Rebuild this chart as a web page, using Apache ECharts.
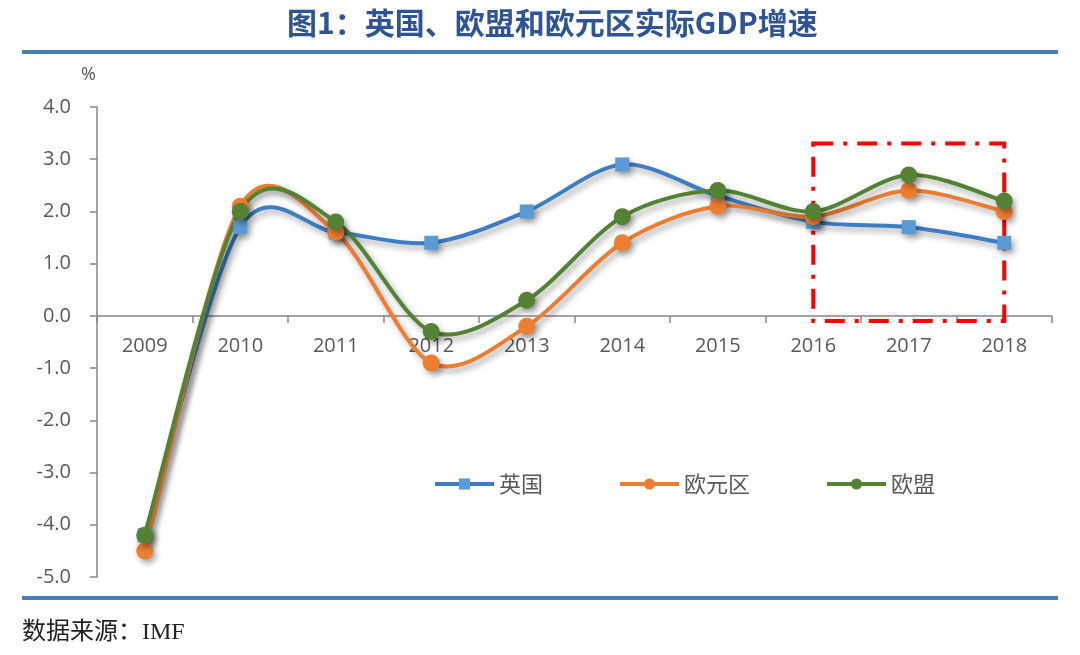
<!DOCTYPE html>
<html>
<head>
<meta charset="utf-8">
<script src="https://cdn.jsdelivr.net/npm/echarts@6/dist/echarts.min.js"></script>
<style>html,body{margin:0;padding:0;background:#fff;}#c{width:1080px;height:655px;}</style>
</head>
<body>
<div id="c"></div>
<script>
const years = ['2009','2010','2011','2012','2013','2014','2015','2016','2017','2018'];
const uk = [-4.2, 1.7, 1.6, 1.4, 2.0, 2.9, 2.3, 1.8, 1.7, 1.4];
const euroArea = [-4.5, 2.1, 1.6, -0.9, -0.2, 1.4, 2.1, 1.9, 2.4, 2.0];
const eu = [-4.2, 2.0, 1.8, -0.3, 0.3, 1.9, 2.4, 2.0, 2.7, 2.2];
const yTicks = {min: -5, max: 4, interval: 1};
const boxRange = {from: '2016', to: '2018', top: 3.3, bottom: -0.1};

const chart = echarts.init(document.getElementById('c'));
const shadow = {shadowColor: 'rgba(0,0,0,0.35)', shadowBlur: 6, shadowOffsetX: 3, shadowOffsetY: 4};
const labelFont = '"Open Sans", "Noto Sans CJK SC", sans-serif';

const grid = {left: 97, right: 28, top: 107, bottom: 78};
const gridH = 655 - grid.top - grid.bottom;
const zeroOffset = -gridH * (0 - yTicks.min) / (yTicks.max - yTicks.min);

// smooth curve (Excel-like cardinal spline) drawn through the axis coordinates of the data
function curveSeries(name, data, color) {
  return {
    type: 'custom', name: name + '_curve', silent: true, clip: false,
    data: data.map((v, i) => [i, v]), encode: {x: 0, y: 1},
    renderItem: (params, api) => {
      if (params.dataIndex !== 0) return null;
      const p = data.map((v, i) => api.coord([i, v]));
      const n = p.length;
      const k = 1 / 6.5;
      let d = 'M' + p[0][0] + ',' + p[0][1];
      for (let i = 0; i < n - 1; i++) {
        const a = p[Math.max(i - 1, 0)], b = p[i], c = p[i + 1], e = p[Math.min(i + 2, n - 1)];
        const c1x = b[0] + (c[0] - a[0]) * k, c1y = b[1] + (c[1] - a[1]) * k;
        const c2x = c[0] - (e[0] - b[0]) * k, c2y = c[1] - (e[1] - b[1]) * k;
        d += ' C' + c1x + ',' + c1y + ' ' + c2x + ',' + c2y + ' ' + c[0] + ',' + c[1];
      }
      return {
        type: 'path', shape: {pathData: d},
        style: Object.assign({fill: 'none', stroke: color, lineWidth: 4, lineJoin: 'round', lineCap: 'round'}, shadow)
      };
    }
  };
}

function markerSeries(name, data, lineColor, markColor, symbol, size) {
  return {
    name, type: 'line', data, symbol, symbolSize: size,
    lineStyle: {color: lineColor, width: 4, opacity: 0},
    itemStyle: Object.assign({color: markColor, borderWidth: 0}, shadow),
    emphasis: {disabled: true}
  };
}

const colors = {uk: ['#3D7DC3', '#5B9BD5'], ea: ['#ED7D31', '#ED7D31'], eu: ['#548235', '#548235']};
const m3 = markerSeries('欧盟', eu, colors.eu[0], colors.eu[1], 'circle', 17);
m3.markArea = {
  silent: true,
  itemStyle: {color: 'rgba(0,0,0,0)', borderColor: '#FF0000', borderWidth: 4, borderType: [20, 10, 4, 10]},
  data: [[{coord: [boxRange.from, boxRange.top]}, {coord: [boxRange.to, boxRange.bottom]}]]
};

chart.setOption({
  animation: false,
  title: {
    text: '图1：英国、欧盟和欧元区实际GDP增速',
    left: 282, top: 3,
    textStyle: {fontSize: 30, fontWeight: 'bold', color: '#2F5496', fontFamily: '"Noto Sans CJK SC", sans-serif'}
  },
  graphic: [
    {type: 'line', shape: {x1: 22, y1: 52, x2: 1058, y2: 52}, style: {stroke: '#4A7EBB', lineWidth: 4}},
    {type: 'line', shape: {x1: 22, y1: 598, x2: 1058, y2: 598}, style: {stroke: '#4A7EBB', lineWidth: 4}},
    {type: 'text', left: 22, top: 621, style: {text: '数据来源：IMF', fontSize: 24, fill: '#222', fontFamily: '"Liberation Serif", "Noto Sans CJK SC", serif'}},
    {type: 'text', left: 81, top: 66, style: {text: '%', fontSize: 18, fill: '#595959', fontFamily: labelFont}}
  ],
  legend: {
    left: 433, top: 473, padding: 0, itemWidth: 59, itemHeight: 14, itemGap: 75,
    lineStyle: {width: 4, opacity: 1},
    textStyle: {fontSize: 22, color: '#595959', fontFamily: '"Noto Sans CJK SC", sans-serif'},
    data: [
      {name: '英国', lineStyle: {opacity: 1}},
      {name: '欧元区', lineStyle: {opacity: 1}},
      {name: '欧盟', lineStyle: {opacity: 1}}
    ]
  },
  grid: grid,
  xAxis: {
    type: 'category', data: years, boundaryGap: true, offset: zeroOffset,
    axisLine: {onZero: false, lineStyle: {color: '#868686', width: 1.5}},
    axisTick: {show: true, length: 7, lineStyle: {color: '#868686', width: 1.5}},
    axisLabel: {fontSize: 20, color: '#595959', margin: 20, fontFamily: labelFont},
    splitLine: {show: false}
  },
  yAxis: {
    type: 'value', min: yTicks.min, max: yTicks.max, interval: yTicks.interval,
    axisLine: {show: true, lineStyle: {color: '#868686', width: 1.5}},
    axisTick: {show: true, length: 7, lineStyle: {color: '#868686', width: 1.5}},
    axisLabel: {fontSize: 20, color: '#595959', margin: 26, fontFamily: labelFont, formatter: v => v.toFixed(1)},
    splitLine: {show: false}
  },
  series: [
    curveSeries('英国', uk, colors.uk[0]),
    markerSeries('英国', uk, colors.uk[0], colors.uk[1], 'rect', 14),
    curveSeries('欧元区', euroArea, colors.ea[0]),
    markerSeries('欧元区', euroArea, colors.ea[0], colors.ea[1], 'circle', 17),
    curveSeries('欧盟', eu, colors.eu[0]),
    m3
  ]
});
</script>
</body>
</html>
